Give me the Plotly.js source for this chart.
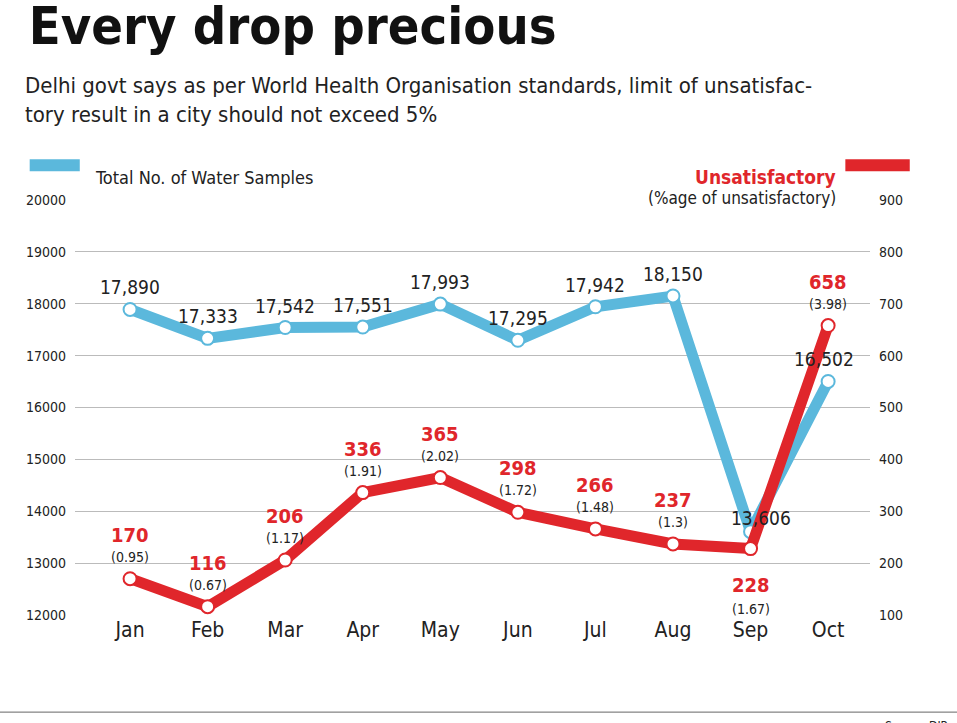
<!DOCTYPE html>
<html><head><meta charset="utf-8">
<script src="https://cdn.plot.ly/plotly-3.0.1.min.js"></script>
<style>body{margin:0;background:#fff}</style></head>
<body><div id="c" style="width:957px;height:723px"></div>
<script>
const months=["Jan","Feb","Mar","Apr","May","Jun","Jul","Aug","Sep","Oct"];
const samples=[17890,17333,17542,17551,17993,17295,17942,18150,13606,16502];
const sampleLabels=["17,890","17,333","17,542","17,551","17,993","17,295","17,942","18,150","13,606","16,502"];
const unsat=[170,116,206,336,365,298,266,237,228,658];
const pct=["0.95","0.67","1.17","1.91","2.02","1.72","1.48","1.3","1.67","3.98"];
const blue="#5bb8dc", red="#e0262b";
const F="DejaVu Sans Condensed, Liberation Sans Narrow, sans-serif";
const x=months.map((m,i)=>i);
const ann=[];
samples.forEach((v,i)=>{
  let ys=22, xs=0;
  if(i==8){ys=14;xs=10;}
  if(i==9){ys=22;xs=-4;}
  ann.push({x:i,y:v,xref:'x',yref:'y',text:sampleLabels[i],showarrow:false,yshift:ys,xshift:xs,font:{family:F,size:19,color:'#222'}});
});
unsat.forEach((v,i)=>{
  const below=(i==8);
  ann.push({x:i,y:v,xref:'x',yref:'y2',text:'<b>'+v+'</b>',showarrow:false,yshift:below?-36:44,font:{family:F,size:20,color:red}});
  ann.push({x:i,y:v,xref:'x',yref:'y2',text:'('+pct[i]+')',showarrow:false,yshift:below?-60:22,font:{family:F,size:14,color:'#222'}});
});
const shapes=[
 {type:'line',xref:'paper',yref:'paper',x0:-0.057,x1:0.006,y0:1.084,y1:1.084,line:{color:blue,width:12}},
 {type:'line',xref:'paper',yref:'paper',x0:0.969,x1:1.05,y0:1.084,y1:1.084,line:{color:red,width:12}},
 {type:'line',xref:'paper',yref:'paper',x0:-0.1,x1:1.12,y0:-0.234,y1:-0.234,line:{color:'#666',width:1}}
];
ann.push({x:0.023,y:1.084,xref:'paper',yref:'paper',xanchor:'left',showarrow:false,text:'Total No. of Water Samples',font:{family:F,size:18,color:'#222'}});
ann.push({x:0.96,y:1.086,xref:'paper',yref:'paper',xanchor:'right',showarrow:false,text:'<b>Unsatisfactory</b>',font:{family:F,size:19,color:red}});
ann.push({x:0.96,y:1.033,xref:'paper',yref:'paper',xanchor:'right',showarrow:false,text:'(%age of unsatisfactory)',font:{family:F,size:17,color:'#222'}});
ann.push({x:1.1,y:-0.245,xref:'paper',yref:'paper',xanchor:'right',yanchor:'top',showarrow:false,text:'Source: DJB',font:{family:F,size:12,color:'#222'}});
ann.push({x:-0.065,y:1.31,xref:'paper',yref:'paper',xanchor:'left',yanchor:'top',showarrow:false,align:'left',
   text:'Delhi govt says as per World Health Organisation standards, limit of unsatisfac-<br>tory result in a city should not exceed 5%',font:{family:F,size:22,color:'#222'}});
Plotly.newPlot('c',[
 {x:x,y:samples,type:'scatter',mode:'lines+markers',line:{color:blue,width:11},marker:{size:13,color:'#fff',line:{color:blue,width:2}},yaxis:'y'},
 {x:x,y:unsat,type:'scatter',mode:'lines+markers',line:{color:red,width:11},marker:{size:13,color:'#fff',line:{color:red,width:2}},yaxis:'y2'}
],{
 width:957,height:723,margin:{l:75,r:87,t:200,b:108},
 paper_bgcolor:'#fff',plot_bgcolor:'#fff',showlegend:false,
 title:{text:'<b>Every drop precious</b>',x:0.03,xanchor:'left',y:0.99,yanchor:'top',font:{family:F,size:52,color:'#111'}},
 xaxis:{range:[-0.71,9.54],tickvals:x,ticktext:months,showgrid:false,zeroline:false,showline:false,ticks:'',tickfont:{family:F,size:21,color:'#222'}},
 yaxis:{range:[12000,20000],dtick:1000,tickformat:'d',gridcolor:'#bbb',gridwidth:1,zeroline:false,ticks:'',tickfont:{family:F,size:14,color:'#222'},ticklabelstandoff:8},
 yaxis2:{range:[100,900],dtick:100,overlaying:'y',side:'right',showgrid:false,zeroline:false,ticks:'',tickfont:{family:F,size:14,color:'#222'},ticklabelstandoff:8},
 annotations:ann,
 shapes:shapes
},{displayModeBar:false});
</script></body></html>
